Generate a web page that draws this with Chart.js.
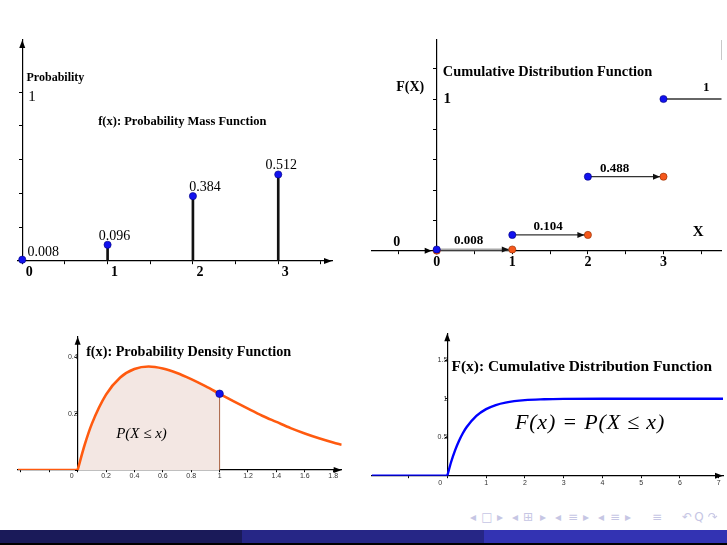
<!DOCTYPE html>
<html>
<head>
<meta charset="utf-8">
<script src="https://cdn.jsdelivr.net/npm/chart.js@4.4.1/dist/chart.umd.min.js"></script>
<style>
  html, body { margin: 0; padding: 0; background: #fff; width: 727px; height: 545px; overflow: hidden; }
  .panel { position: absolute; }
  #p1 { left: 0; top: 30px; width: 360px; height: 270px; }
  #p2 { left: 360px; top: 30px; width: 367px; height: 270px; }
  #p3 { left: 0; top: 320px; width: 360px; height: 180px; }
  #p4 { left: 360px; top: 320px; width: 367px; height: 180px; }
  .foot { position: absolute; top: 530px; height: 14px; }
  .nav { position: absolute; top: 510px; font: 12px 'DejaVu Sans', sans-serif; color: #c6c6e4; transform: translateX(-50%); }
</style>
</head>
<body>
<div class="panel" id="p1"><canvas id="pmfChart"></canvas></div>
<div class="panel" id="p2"><canvas id="cdfChart"></canvas></div>
<div class="panel" id="p3"><canvas id="pdfChart"></canvas></div>
<div class="panel" id="p4"><canvas id="ccdfChart"></canvas></div>
<div style="position:absolute;left:721px;top:40px;width:1px;height:20px;background:#c8c8c8"></div>
<div class="foot" style="left:0;width:242px;background:#1a1a59"></div>
<div class="foot" style="left:242px;width:242px;background:#262686"></div>
<div class="foot" style="left:484px;width:243px;background:#3333b3"></div>
<div style="position:absolute;left:0;top:543px;width:727px;height:2px;background:#000"></div>
<div id="navbar"></div>

<script>
  // top-left: probability mass function
  const pmfX = [0, 1, 2, 3];
  const pmfP = [0.008, 0.096, 0.384, 0.512];
  const pmfLabels = ['0.008', '0.096', '0.384', '0.512'];
  const pmfTicks = ['0', '1', '2', '3'];

  // top-right: cumulative distribution (step)
  const cdfX = [0, 1, 2, 3];
  const cdfBefore = [0, 0.008, 0.104, 0.488];   // value just left of each jump
  const cdfF = [0.008, 0.104, 0.488, 1];
  const cdfLabels = ['0.008', '0.104', '0.488', '1'];
  const cdfTicks = ['0', '1', '2', '3'];

  // bottom-left: density curve
  const pdfX = [0, 0.05, 0.1, 0.2, 0.3, 0.4, 0.5, 0.6, 0.7, 0.8, 0.9, 1.0, 1.1, 1.2, 1.3, 1.4, 1.5, 1.6, 1.7, 1.8, 1.86];
  const pdfY = [0, 0.090, 0.164, 0.268, 0.329, 0.359, 0.368, 0.361, 0.345, 0.323, 0.298, 0.271, 0.244, 0.218, 0.193, 0.171, 0.149, 0.130, 0.113, 0.098, 0.090];
  const pdfMarkX = 1;
  const pdfMarkY = 0.271;
  const pdfXTicks = [0.2, 0.4, 0.6, 0.8, 1, 1.2, 1.4, 1.6, 1.8];
  const pdfXTickLabels = ['0.2', '0.4', '0.6', '0.8', '1', '1.2', '1.4', '1.6', '1.8'];
  const pdfYTicks = [0.2, 0.4];
  const pdfYTickLabels = ['0.2', '0.4'];

  // bottom-right: continuous cdf curve
  const ccdfX = [0, 0.1, 0.2, 0.3, 0.4, 0.5, 0.75, 1, 1.25, 1.5, 2, 2.5, 3, 4, 5, 6, 7.11];
  const ccdfY = [0, 0.181, 0.330, 0.451, 0.551, 0.632, 0.777, 0.865, 0.918, 0.950, 0.982, 0.993, 0.998, 1, 1, 1, 1];
  const ccdfXTicks = [1, 2, 3, 4, 5, 6, 7];
  const ccdfXTickLabels = ['1', '2', '3', '4', '5', '6', '7'];
  const ccdfYTicks = [0.5, 1, 1.5];
  const ccdfYTickLabels = ['0.5', '1', '1.5'];

  // look
  const SERIF = "'Liberation Serif', 'Times New Roman', serif";
  const SANS = "'Liberation Sans', Arial, sans-serif";
  const BLUE = '#1212ee';
  const ORANGE = '#f5581c';
  const CURVE = '#ff5a0f';
  const pmfNudge = [[21, -7], [7, -8], [12, -9], [3, -9]];
  const cdfNudge = [[-6, -9], [-2, -8], [-11, -8], [5, -11]];

  Chart.defaults.animation = false;
  Chart.defaults.responsive = true;
  Chart.defaults.maintainAspectRatio = false;
  Chart.defaults.plugins.legend.display = false;
  Chart.defaults.plugins.tooltip.enabled = false;

  const tickLabel = (vals, labels) => (v) => {
    const i = vals.findIndex(t => Math.abs(t - v) < 1e-6);
    return i < 0 ? '' : labels[i];
  };

  function axis(pos, min, max, step, o) {
    const ticks = {
      display: !!o.cb, stepSize: step, includeBounds: false, autoSkip: false,
      maxRotation: 0, minRotation: 0, color: o.color || '#000',
      padding: o.pad || 0, labelOffset: o.lo || 0
    };
    if (o.cb) { ticks.callback = o.cb; ticks.font = o.font; }
    const a = {
      type: 'linear', position: pos, min: min, max: max, offset: false,
      border: {display: true, color: '#000', width: o.bw || 1.2},
      grid: {display: true, offset: false, drawOnChartArea: false, drawTicks: true, tickLength: o.tl || 3, color: '#000', lineWidth: 1},
      ticks: ticks
    };
    if (o.keep) a.afterBuildTicks = (s) => { s.ticks = s.ticks.filter(t => t.value <= o.keep + 1e-6); };
    return a;
  }

  function arrowHead(ctx, x, y, dir, len, half, color) {
    ctx.fillStyle = color;
    ctx.beginPath();
    if (dir === 'up') {
      ctx.moveTo(x, y); ctx.lineTo(x - half, y + len); ctx.lineTo(x + half, y + len);
    } else {
      ctx.moveTo(x, y); ctx.lineTo(x - len, y - half); ctx.lineTo(x - len, y + half);
    }
    ctx.closePath();
    ctx.fill();
  }

  function label(ctx, s, x, y, font, align, color, spacing) {
    ctx.font = font;
    ctx.fillStyle = color || '#000';
    ctx.textAlign = align || 'center';
    ctx.textBaseline = 'middle';
    ctx.letterSpacing = spacing || '0px';
    ctx.fillText(s, x, y);
    ctx.letterSpacing = '0px';
  }

  const pts = (xs, ys) => xs.map((x, i) => ({x: x, y: ys[i]}));

  // ---------- PMF ----------
  new Chart(document.getElementById('pmfChart'), {
    type: 'scatter',
    data: {
      datasets: [
        {type: 'scatter', data: pts(pmfX, pmfP), pointRadius: 3.6, pointBackgroundColor: BLUE,
         pointBorderColor: '#00007a', pointBorderWidth: 0.6, clip: false, order: 0},
        {type: 'bar', data: pts(pmfX, pmfP), backgroundColor: '#111', barThickness: 2, order: 1}
      ]
    },
    options: {
      layout: {padding: {left: 18, right: 28, top: 10, bottom: 39}},
      scales: {
        x: axis({y: 0}, -0.05, 3.63, 0.5, {cb: tickLabel(pmfX, pmfTicks), font: {family: SERIF, size: 14, weight: 'bold'}, lo: 7}),
        y: axis({x: 0}, 0, 1.308, 0.2, {keep: 1})
      }
    },
    plugins: [{
      id: 'pmfDecor',
      afterDraw(chart) {
        const {ctx, chartArea: a, scales: {x, y}} = chart;
        ctx.save();
        arrowHead(ctx, x.getPixelForValue(0), a.top, 'up', 8, 3, '#000');
        arrowHead(ctx, a.right, y.getPixelForValue(0), 'right', 8, 3, '#000');
        pmfX.forEach((v, i) => label(ctx, pmfLabels[i],
          x.getPixelForValue(v) + pmfNudge[i][0], y.getPixelForValue(pmfP[i]) + pmfNudge[i][1], '14px ' + SERIF));
        label(ctx, 'Probability', x.getPixelForValue(0.05), y.getPixelForValue(1.081), 'bold 12px ' + SERIF, 'left');
        label(ctx, '1', x.getPixelForValue(0.07), y.getPixelForValue(0.97), '15px ' + SERIF, 'left');
        label(ctx, 'f(x): Probability Mass Function', x.getPixelForValue(0.89), y.getPixelForValue(0.822), 'bold 12.5px ' + SERIF, 'left');
        ctx.restore();
      }
    }]
  });

  // ---------- step CDF ----------
  const cdfXMax = 3.77;
  const stepSegments = cdfX.map((v, i) => ({
    type: 'line',
    data: [{x: v, y: cdfF[i]}, {x: i < cdfX.length - 1 ? cdfX[i + 1] : cdfXMax, y: cdfF[i]}],
    borderColor: i === 0 ? '#a8a8a8' : '#333',
    borderWidth: i === 0 ? 2 : 1.3,
    pointRadius: 0, showLine: true, order: 2
  }));
  new Chart(document.getElementById('cdfChart'), {
    type: 'scatter',
    data: {
      datasets: [
        {type: 'scatter', data: pts(cdfX, cdfF), pointRadius: 3.6, pointBackgroundColor: BLUE,
         pointBorderColor: '#00007a', pointBorderWidth: 0.6, clip: false, order: 0},
        {type: 'scatter', data: pts(cdfX, cdfBefore), pointRadius: 3.6, pointBackgroundColor: ORANGE,
         pointBorderColor: '#8a2c00', pointBorderWidth: 0.6, clip: false, order: 1}
      ].concat(stepSegments)
    },
    options: {
      layout: {padding: {left: 11.7, right: 5.3, top: 10, bottom: 49.3}},
      scales: {
        x: axis({y: 0}, -0.86, cdfXMax, 0.5, {cb: tickLabel(cdfX, cdfTicks), font: {family: SERIF, size: 14, weight: 'bold'}}),
        y: axis({x: 0}, 0, 1.389, 0.2, {})
      }
    },
    plugins: [{
      id: 'cdfDecor',
      afterDraw(chart) {
        const {ctx, scales: {x, y}} = chart;
        ctx.save();
        // arrow along the axis into the origin
        arrowHead(ctx, x.getPixelForValue(0) - 5, y.getPixelForValue(0), 'right', 7, 3, '#000');
        // arrows ending each step at the open point
        for (let i = 0; i < cdfX.length - 1; i++) {
          arrowHead(ctx, x.getPixelForValue(cdfX[i + 1]) - 3.5, y.getPixelForValue(cdfF[i]), 'right', 7, 3, '#111');
        }
        cdfX.forEach((v, i) => label(ctx, cdfLabels[i],
          x.getPixelForValue(v + 0.5) + cdfNudge[i][0], y.getPixelForValue(cdfF[i]) + cdfNudge[i][1], 'bold 13px ' + SERIF));
        label(ctx, 'Cumulative Distribution Function', x.getPixelForValue(0.08), y.getPixelForValue(1.173), 'bold 14.4px ' + SERIF, 'left');
        label(ctx, 'F(X)', x.getPixelForValue(-0.35), y.getPixelForValue(1.077), 'bold 14px ' + SERIF);
        label(ctx, '1', x.getPixelForValue(0.14), y.getPixelForValue(1.0), 'bold 15px ' + SERIF);
        label(ctx, 'X', x.getPixelForValue(3.46), y.getPixelForValue(0.123), 'bold 15px ' + SERIF);
        label(ctx, '0', x.getPixelForValue(-0.53), y.getPixelForValue(0.057), 'bold 14px ' + SERIF);
        ctx.restore();
      }
    }]
  });

  // ---------- density ----------
  const pdfXMin = -0.42;
  const shaded = pts(pdfX, pdfY).filter(p => p.x <= pdfMarkX + 1e-9);
  new Chart(document.getElementById('pdfChart'), {
    type: 'scatter',
    data: {
      datasets: [
        {type: 'scatter', data: [{x: pdfMarkX, y: pdfMarkY}], pointRadius: 3.8, pointBackgroundColor: BLUE,
         pointBorderColor: '#00007a', pointBorderWidth: 0.6, clip: false, order: 0},
        {type: 'line', data: pts(pdfX, pdfY), borderColor: CURVE, borderWidth: 2.6, pointRadius: 0,
         cubicInterpolationMode: 'monotone', showLine: true, order: 1},
        {type: 'line', data: [{x: pdfXMin, y: 0}, {x: 0, y: 0}], borderColor: CURVE, borderWidth: 2.6,
         pointRadius: 0, showLine: true, order: 2},
        {type: 'line', data: [{x: pdfMarkX, y: 0}, {x: pdfMarkX, y: pdfMarkY}], borderColor: '#a86040',
         borderWidth: 1, pointRadius: 0, showLine: true, order: 3},
        {type: 'line', data: shaded, borderWidth: 0, pointRadius: 0, fill: 'origin',
         backgroundColor: '#f3e7e3', cubicInterpolationMode: 'monotone', showLine: true, order: 4}
      ]
    },
    options: {
      layout: {padding: {left: 18, right: 18.3, top: 16.7, bottom: 30}},
      scales: {
        x: axis({y: 0}, pdfXMin, 1.86, 0.2, {cb: tickLabel(pdfXTicks, pdfXTickLabels), font: {family: SANS, size: 7}, color: '#333', tl: 2, pad: 0}),
        y: axis({x: 0}, 0, 0.474, 0.2, {cb: tickLabel(pdfYTicks, pdfYTickLabels), font: {family: SANS, size: 7}, color: '#333', tl: 2, pad: 1})
      }
    },
    plugins: [{
      id: 'pdfDecor',
      afterDraw(chart) {
        const {ctx, chartArea: a, scales: {x, y}} = chart;
        ctx.save();
        arrowHead(ctx, x.getPixelForValue(0), a.top, 'up', 8, 3, '#000');
        arrowHead(ctx, a.right, y.getPixelForValue(0), 'right', 8, 3, '#000');
        label(ctx, '0', x.getPixelForValue(0) - 6, y.getPixelForValue(0) + 6.5, '7px ' + SANS, 'center', '#333');
        label(ctx, 'f(x): Probability Density Function', x.getPixelForValue(0.06), y.getPixelForValue(0.417), 'bold 14.2px ' + SERIF, 'left');
        label(ctx, 'P(X ≤ x)', x.getPixelForValue(0.45), y.getPixelForValue(0.128), 'italic 15px ' + SERIF);
        ctx.restore();
      }
    }]
  });

  // ---------- continuous CDF ----------
  const ccdfXMin = -1.95;
  new Chart(document.getElementById('ccdfChart'), {
    type: 'scatter',
    data: {
      datasets: [
        {type: 'line', data: pts(ccdfX, ccdfY), borderColor: '#0000ff', borderWidth: 2.4, pointRadius: 0,
         cubicInterpolationMode: 'monotone', showLine: true},
        {type: 'line', data: [{x: ccdfXMin, y: 0}, {x: 0, y: 0}], borderColor: '#0000ff', borderWidth: 2.4,
         pointRadius: 0, showLine: true}
      ]
    },
    options: {
      layout: {padding: {left: 11.7, right: 4, top: 13.3, bottom: 24.3}},
      scales: {
        x: axis({y: 0}, ccdfXMin, 7.11, 1, {cb: tickLabel(ccdfXTicks, ccdfXTickLabels), font: {family: SANS, size: 7}, color: '#333', tl: 2, pad: 1.4}),
        y: axis({x: 0}, 0, 1.85, 0.5, {cb: tickLabel(ccdfYTicks, ccdfYTickLabels), font: {family: SANS, size: 7}, color: '#333', tl: 2, pad: 2})
      }
    },
    plugins: [{
      id: 'ccdfDecor',
      afterDraw(chart) {
        const {ctx, chartArea: a, scales: {x, y}} = chart;
        ctx.save();
        arrowHead(ctx, x.getPixelForValue(0), a.top, 'up', 8, 3, '#000');
        arrowHead(ctx, a.right, y.getPixelForValue(0), 'right', 8, 3, '#000');
        label(ctx, '0', x.getPixelForValue(0) - 7, y.getPixelForValue(0) + 7.6, '7px ' + SANS, 'center', '#333');
        label(ctx, 'F(x): Cumulative Distribution Function', x.getPixelForValue(0.11), y.getPixelForValue(1.41), 'bold 15.4px ' + SERIF, 'left');
        label(ctx, 'F(x) = P(X ≤ x)', x.getPixelForValue(3.68), y.getPixelForValue(0.68), 'italic 22px ' + SERIF, 'center', '#000', '0.8px');
        ctx.restore();
      }
    }]
  });

  // beamer navigation symbols
  const navGlyphs = ['◂', '□', '▸', '◂', '⊞', '▸', '◂', '≡', '▸', '◂', '≡', '▸', '≡', '↶', 'Q', '↷'];
  const navPos = [473, 487, 500, 515, 528, 543, 558, 573, 586, 601, 615, 628, 657, 687, 699, 713];
  const nav = document.getElementById('navbar');
  navGlyphs.forEach((g, i) => {
    const s = document.createElement('span');
    s.className = 'nav';
    s.style.left = navPos[i] + 'px';
    s.textContent = g;
    nav.appendChild(s);
  });
</script>
</body>
</html>
